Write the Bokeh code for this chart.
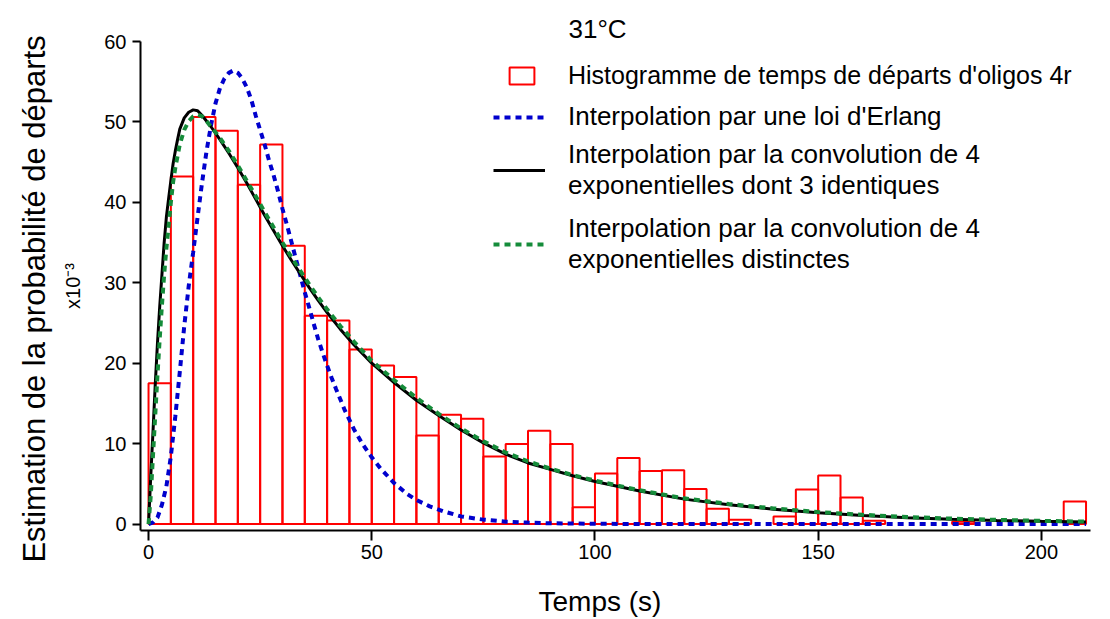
from bokeh.plotting import figure
from bokeh.models import Range1d, Legend, LegendItem, FixedTicker, ColumnDataSource, LinearAxis
from bokeh.embed import file_html
from bokeh.resources import INLINE

FONT = "Liberation Sans"
NBSP = "\u00a0"

# ---- data (probabilities in units of 1e-3) ----
bin_width = 5
bin_starts = list(range(0, 210, 5))
hist_values = [17.5, 43.2, 50.6, 48.9, 42.2, 47.2, 34.6, 25.9, 25.3, 21.7,
               19.7, 18.3, 11.0, 13.6, 13.1, 8.4, 9.95, 11.6, 9.95, 2.1,
               6.3, 8.2, 6.6, 6.7, 4.35, 1.9, 0.55, 0.0, 0.95, 4.3,
               6.05, 3.3, 0.4, 0.0, 0.0, 0.0, 0.3, 0.0, 0.0, 0.0,
               0.0, 2.8]

t_erlang = [0, 1, 2, 3, 4, 5, 6, 7, 8, 9, 10, 11, 12, 13, 14, 15, 16, 17, 18, 19,
            20, 21, 22, 23, 24, 25, 26, 27, 28, 29, 30, 31, 32, 33, 34, 35, 36, 37,
            38, 39, 40, 41, 42, 44, 46, 48, 50, 52, 55, 58, 60, 63, 66, 70, 75, 80,
            85, 90, 100, 120, 150, 180, 210]
v_erlang = [0.0, 0.2, 0.8, 2.4, 4.7, 8.4, 13.4, 18.9, 24.6, 29.6, 33.8, 38.2, 42.5,
            46.4, 49.6, 52.3, 54.2, 55.4, 56.1, 56.4, 56.1, 55.4, 54.3, 52.8, 50.8,
            49.0, 47.2, 45.2, 43.4, 41.4, 39.2, 37.2, 35.1, 33.0, 30.9, 28.8, 26.9,
            24.9, 23.0, 21.3, 19.7, 18.2, 16.8, 14.1, 11.8, 9.9, 8.3, 6.9, 5.1, 3.7,
            3.0, 2.2, 1.6, 0.95, 0.55, 0.3, 0.18, 0.1, 0.03, 0.0, 0.0, 0.0, 0.0]

t_conv3 = [0, 0.5, 1, 1.5, 2, 2.5, 3, 3.5, 4, 4.5, 5, 5.5, 6, 6.5, 7, 8, 9, 10, 11,
           12, 14, 16, 18, 20, 22, 24, 26, 28, 30, 32, 34, 36, 38, 40, 43, 46, 50,
           55, 60, 65, 70, 75, 80, 85, 90, 95, 100, 110, 120, 130, 140, 150, 160,
           170, 180, 190, 200, 210]
v_conv3 = [0.0, 6.0, 11.5, 17.3, 22.5, 27.0, 31.0, 35.0, 38.2, 40.5, 42.7, 44.8,
           46.4, 47.8, 49.1, 50.5, 51.2, 51.5, 51.4, 50.8, 49.4, 47.8, 46.1, 44.3,
           42.4, 40.4, 38.4, 36.5, 34.6, 32.8, 31.1, 29.4, 27.8, 26.3, 24.2, 22.3,
           20.0, 17.6, 15.4, 13.5, 11.7, 10.1, 8.7, 7.6, 6.8, 6.0, 5.3, 4.1, 3.1,
           2.4, 1.85, 1.4, 1.05, 0.8, 0.6, 0.45, 0.35, 0.27]

t_conv4 = [0, 0.5, 1, 1.5, 2, 2.5, 3, 3.5, 4, 4.5, 5, 5.5, 6, 7, 8, 9, 10, 11, 12,
           13, 14, 16, 18, 20, 22, 24, 26, 28, 30, 32, 34, 36, 38, 40, 43, 46, 50,
           55, 60, 65, 70, 75, 80, 85, 90, 95, 100, 110, 120, 130, 140, 150, 160,
           170, 180, 190, 200, 210]
v_conv4 = [0.0, 3.5, 8.5, 13.5, 18.5, 23.0, 27.2, 31.0, 34.3, 37.0, 40.0, 42.5,
           44.3, 47.2, 49.0, 50.1, 50.7, 50.9, 50.7, 50.1, 49.4, 48.0, 46.4, 44.6,
           42.7, 40.8, 38.8, 36.9, 35.0, 33.2, 31.5, 29.8, 28.2, 26.7, 24.6, 22.7,
           20.3, 17.9, 15.7, 13.7, 11.9, 10.3, 8.9, 7.8, 6.9, 6.1, 5.4, 4.2, 3.2,
           2.5, 1.95, 1.5, 1.15, 0.88, 0.68, 0.52, 0.4, 0.3]

x_ticks = [0, 50, 100, 150, 200]
y_ticks = [0, 10, 20, 30, 40, 50, 60]

title_text = "31°C"
multiplier_text = "x10\u207b\u00b3"
x_label = "Temps (s)"
y_label = "Estimation de la probabilité de départs"
label_hist = "Histogramme de temps de départs d'oligos 4r"
label_erlang = "Interpolation par une loi d'Erlang"
label_conv3 = "Interpolation par la convolution de 4\nexponentielles dont 3 identiques"
label_conv4 = "Interpolation par la convolution de 4\nexponentielles distinctes"

# ---- figure ----
p = figure(width=1108, height=619, x_range=Range1d(-1.8, 211), y_range=Range1d(-0.8, 60),
           output_backend="svg", toolbar_location=None,
           min_border_left=140, min_border_right=18, min_border_top=41, min_border_bottom=88)
p.xgrid.visible = False
p.ygrid.visible = False
p.outline_line_color = None
p.background_fill_color = "white"

# title used as the legend header "31°C"
p.title.text = title_text
p.title.text_font = FONT
p.title.text_font_size = "26px"
p.title.text_font_style = "normal"
p.title.text_color = "black"
p.title.align = "left"
p.title.offset = 428
p.title.standoff = -4

keep = [(s, v) for s, v in zip(bin_starts, hist_values) if v > 0]
src = ColumnDataSource(dict(left=[s for s, v in keep],
                            right=[s + bin_width for s, v in keep],
                            top=[v for s, v in keep]))
r_hist = p.quad(left="left", right="right", bottom=0, top="top", source=src,
                fill_color=None, line_color="#ff0000", line_width=2)

r_erl = p.line(t_erlang, v_erlang, line_color="#0000cd", line_width=4, line_dash="6 5")
r_c3 = p.line(t_conv3, v_conv3, line_color="black", line_width=3)
r_c4 = p.line(t_conv4, v_conv4, line_color="#158c3a", line_width=4, line_dash="6 5")

# axes
for ax in (p.xaxis[0], p.yaxis[0]):
    ax.axis_line_width = 2
    ax.axis_line_color = "black"
    ax.major_tick_line_width = 2
    ax.major_tick_line_color = "black"
    ax.minor_tick_line_color = None
    ax.major_tick_in = 0
    ax.major_label_text_font = FONT
    ax.major_label_text_font_size = "20px"
    ax.major_label_text_color = "black"
    ax.axis_label_text_font = FONT
    ax.axis_label_text_font_style = "normal"
    ax.axis_label_text_color = "black"

p.xaxis.ticker = FixedTicker(ticks=x_ticks)
p.yaxis.ticker = FixedTicker(ticks=y_ticks)
p.xaxis.major_tick_out = 10
p.yaxis.major_tick_out = 8
p.xaxis.major_label_standoff = 4
p.yaxis.major_label_standoff = 6
p.xaxis.axis_label = x_label + NBSP * 4
p.xaxis.axis_label_text_font_size = "28px"
p.xaxis.axis_label_standoff = 24
# inner left axis label: the x10^-3 multiplier
p.yaxis.axis_label = multiplier_text
p.yaxis.axis_label_text_font_size = "20px"
p.yaxis.axis_label_standoff = 17

# outer left axis carrying the long label only
outer = LinearAxis(ticker=FixedTicker(ticks=[]), axis_label=y_label + NBSP * 3,
                   axis_line_color=None, major_tick_line_color=None, minor_tick_line_color=None,
                   major_tick_out=0, major_tick_in=0, major_label_standoff=0,
                   axis_label_standoff=8, axis_label_text_font=FONT,
                   axis_label_text_font_size="31px", axis_label_text_font_style="normal",
                   axis_label_text_color="black")
p.add_layout(outer, "left")

common = dict(padding=0, margin=0, border_line_color=None, background_fill_alpha=0,
              label_text_font=FONT, label_text_color="black")
legs = [
    Legend(items=[LegendItem(label=label_hist, renderers=[r_hist])], location=(366, 440),
           glyph_width=31, glyph_height=21, label_standoff=31, label_text_font_size="25px",
           **common),
    Legend(items=[LegendItem(label=label_erlang, renderers=[r_erl])], location=(353, 398),
           glyph_width=52, glyph_height=20, label_standoff=23, label_text_font_size="26px",
           **common),
    Legend(items=[LegendItem(label=label_conv3, renderers=[r_c3])], location=(353, 329),
           glyph_width=52, glyph_height=20, label_standoff=23, label_text_font_size="26px",
           **common),
    Legend(items=[LegendItem(label=label_conv4, renderers=[r_c4])], location=(353, 255),
           glyph_width=52, glyph_height=20, label_standoff=23, label_text_font_size="26px",
           **common),
]
for lg in legs:
    p.add_layout(lg)

open("out.html", "w").write(file_html(p, INLINE))
